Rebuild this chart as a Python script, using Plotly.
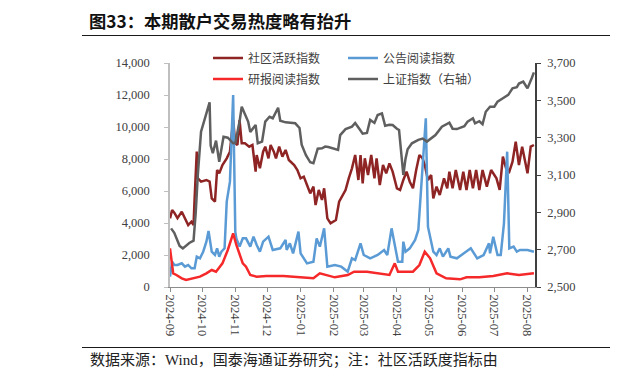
import plotly.graph_objects as go

# ---------------- data ----------------
sse_dates = ["2024-09-02","2024-09-05","2024-09-10","2024-09-13","2024-09-19","2024-09-23","2024-09-25","2024-09-27",
             "2024-09-30","2024-10-08","2024-10-09","2024-10-11","2024-10-14","2024-10-17","2024-10-21","2024-10-25",
             "2024-10-30","2024-11-01","2024-11-05","2024-11-07","2024-11-13","2024-11-15","2024-11-20","2024-11-22",
             "2024-11-26","2024-11-29","2024-12-03","2024-12-06","2024-12-11","2024-12-13","2024-12-18","2024-12-23",
             "2024-12-27","2024-12-31","2025-01-02","2025-01-06","2025-01-10","2025-01-13","2025-01-17","2025-01-21",
             "2025-01-24","2025-01-27","2025-02-05","2025-02-07","2025-02-12","2025-02-18","2025-02-21","2025-02-25",
             "2025-02-28","2025-03-04","2025-03-07","2025-03-11","2025-03-14","2025-03-18","2025-03-21","2025-03-25",
             "2025-03-28","2025-04-01","2025-04-03","2025-04-07","2025-04-09","2025-04-11","2025-04-15","2025-04-21",
             "2025-04-25","2025-04-29","2025-05-07","2025-05-13","2025-05-16","2025-05-20","2025-05-23","2025-05-27",
             "2025-06-03","2025-06-06","2025-06-11","2025-06-13","2025-06-17","2025-06-20","2025-06-23","2025-06-27",
             "2025-07-01","2025-07-04","2025-07-09","2025-07-14","2025-07-18","2025-07-22","2025-07-24","2025-07-28",
             "2025-07-31","2025-08-01","2025-08-05","2025-08-07"]
sse_values = [2814,2790,2720,2707,2736,2748,2896,3100,
              3332,3489,3258,3217,3284,3171,3305,3300,
              3270,3272,3387,3466,3386,3331,3368,3270,
              3279,3386,3412,3404,3460,3391,3382,3377,
              3377,3352,3262,3206,3168,3163,3241,3243,
              3252,3250,3234,3314,3346,3359,3379,3346,
              3321,3325,3395,3379,3421,3430,3364,3369,
              3368,3348,3341,3100,3186,3238,3270,3288,
              3295,3279,3314,3359,3367,3380,3348,3346,
              3361,3386,3404,3377,3388,3372,3439,3466,
              3466,3493,3511,3529,3564,3570,3590,3600,
              3573,3564,3620,3650]

act_dates = ["2024-09-01","2024-09-03","2024-09-05","2024-09-08","2024-09-12","2024-09-15","2024-09-18","2024-09-21",
             "2024-09-23","2024-09-24","2024-09-26","2024-09-27","2024-09-30","2024-10-05","2024-10-08","2024-10-10",
             "2024-10-13","2024-10-15","2024-10-17","2024-10-20","2024-10-24","2024-10-27","2024-10-30","2024-11-01",
             "2024-11-03","2024-11-05","2024-11-07","2024-11-10","2024-11-14","2024-11-17","2024-11-20","2024-11-21",
             "2024-11-24","2024-11-27","2024-11-29","2024-12-02","2024-12-04","2024-12-07","2024-12-09","2024-12-12",
             "2024-12-15","2024-12-18","2024-12-21","2024-12-26","2024-12-29","2025-01-01","2025-01-04","2025-01-07",
             "2025-01-10","2025-01-13","2025-01-15","2025-01-18","2025-01-21","2025-01-23","2025-01-26","2025-01-29",
             "2025-02-03","2025-02-06","2025-02-09","2025-02-12","2025-02-15","2025-02-18","2025-02-21","2025-02-24",
             "2025-02-26","2025-02-28","2025-03-02","2025-03-05","2025-03-08","2025-03-11","2025-03-13","2025-03-16",
             "2025-03-19","2025-03-22","2025-03-25","2025-03-28","2025-04-01","2025-04-04","2025-04-07","2025-04-10",
             "2025-04-13","2025-04-16","2025-04-19","2025-04-22","2025-04-25","2025-04-27","2025-04-30","2025-05-03",
             "2025-05-05","2025-05-08","2025-05-11","2025-05-15","2025-05-18","2025-05-20","2025-05-23","2025-05-26",
             "2025-05-30","2025-06-02","2025-06-05","2025-06-08","2025-06-11","2025-06-14","2025-06-17","2025-06-20",
             "2025-06-24","2025-06-28","2025-07-03","2025-07-06","2025-07-09","2025-07-12","2025-07-15","2025-07-18",
             "2025-07-21","2025-07-24","2025-07-27","2025-08-01","2025-08-04","2025-08-07"]
act_values = [4292,4812,4650,4300,4708,4300,3875,4083,
              3875,5542,8458,6792,6583,6688,6583,5542,
              5333,7312,7104,7625,8042,8458,10437,8979,
              8875,10437,8979,8979,8771,8875,7208,8250,
              7417,8458,8771,8042,8875,8458,8042,8771,
              8146,8563,7938,7625,7312,6792,6896,6375,
              5854,6271,5125,6063,5438,6167,4292,3979,
              4188,5333,5750,6063,6792,7417,8250,6688,
              8250,6479,8042,7000,8250,6792,8042,6375,
              7625,7104,7729,7208,6167,6063,6688,7208,
              6583,6167,7312,8250,8042,7625,6688,7000,
              5542,6271,5750,6792,6167,7208,6167,7312,
              6063,7208,6063,7312,6167,7312,6063,7312,
              6271,7312,6792,6063,8146,7417,7208,7833,
              9083,7625,8771,7104,8771,8875]

ann_dates = ["2024-09-01","2024-09-03","2024-09-05","2024-09-08","2024-09-12","2024-09-15","2024-09-18","2024-09-21",
             "2024-09-24","2024-09-26","2024-09-29","2024-10-02","2024-10-05","2024-10-07","2024-10-10","2024-10-13",
             "2024-10-15","2024-10-17","2024-10-19","2024-10-22","2024-10-24","2024-10-27","2024-10-30","2024-11-01",
             "2024-11-02","2024-11-05","2024-11-08","2024-11-11","2024-11-15","2024-11-18","2024-11-21","2024-11-24",
             "2024-11-27","2024-12-02","2024-12-06","2024-12-13","2024-12-18","2024-12-19","2024-12-22","2024-12-25",
             "2024-12-30","2025-01-01","2025-01-07","2025-01-13","2025-01-16","2025-01-19","2025-01-23","2025-01-26",
             "2025-02-02","2025-02-08","2025-02-14","2025-02-18","2025-02-21","2025-02-26","2025-03-01","2025-03-07",
             "2025-03-14","2025-03-20","2025-03-23","2025-03-27","2025-03-30","2025-04-02","2025-04-06","2025-04-07",
             "2025-04-09","2025-04-13","2025-04-18","2025-04-21","2025-04-28","2025-04-30","2025-05-05","2025-05-08",
             "2025-05-11","2025-05-14","2025-05-19","2025-05-21","2025-05-27","2025-06-03","2025-06-09","2025-06-15",
             "2025-06-21","2025-06-26","2025-06-27","2025-06-30","2025-07-04","2025-07-07","2025-07-10","2025-07-13",
             "2025-07-15","2025-07-19","2025-07-22","2025-07-25","2025-08-01","2025-08-07"]
ann_values = [646,1583,1375,1375,1479,1271,1375,1167,
              1167,1896,1792,2208,2833,3500,2208,2000,
              2417,1896,2208,2417,5333,6583,12000,3458,
              3042,2521,3042,3042,2521,3146,2625,2208,
              2833,3146,2313,2417,2938,2313,2729,2104,
              3458,2104,1479,1583,3042,2521,3667,1271,
              1375,1271,958,1792,1688,2729,2000,1792,
              2000,2313,2000,3667,2625,1583,1583,2833,
              2208,2417,2938,3563,10542,3771,2208,2000,
              2417,1896,2417,1896,1792,2104,2417,1792,
              2000,2729,2104,3146,2000,2000,3979,8458,
              2417,2521,2208,2313,2313,2208]

rep_dates = ["2024-09-01","2024-09-04","2024-09-07","2024-09-12","2024-09-16","2024-09-23","2024-09-29","2024-10-05",
             "2024-10-10","2024-10-14","2024-10-20","2024-10-25","2024-10-30","2024-11-02","2024-11-05","2024-11-08",
             "2024-11-11","2024-11-15","2024-11-21","2024-11-30","2024-12-16","2025-01-01","2025-01-13","2025-01-19",
             "2025-02-02","2025-02-14","2025-02-20","2025-03-04","2025-03-16","2025-03-25","2025-03-30","2025-04-02",
             "2025-04-16","2025-04-22","2025-04-27","2025-05-02","2025-05-08","2025-05-17","2025-05-30","2025-06-05",
             "2025-06-17","2025-06-30","2025-07-13","2025-07-24","2025-08-07"]
rep_values = [2417,854,750,542,438,542,646,854,
              1063,958,1479,2313,3354,2625,2104,1479,
              1271,750,646,688,688,604,542,854,
              604,750,958,958,854,750,1479,958,
              958,1375,2208,1792,854,542,479,604,
              604,688,854,750,854]

left_ticks = [0, 2000, 4000, 6000, 8000, 10000, 12000, 14000]
right_ticks = [2500, 2700, 2900, 3100, 3300, 3500, 3700]
month_ticks = ["2024-09-01","2024-10-01","2024-11-01","2024-12-01","2025-01-01","2025-02-01",
               "2025-03-01","2025-04-01","2025-05-01","2025-06-01","2025-07-01","2025-08-01"]

names = ["社区活跃指数", "公告阅读指数", "研报阅读指数", "上证指数（右轴）"]
colors = ["#8E2424", "#5B9BD5", "#F5282A", "#5F5F5F"]

# ---------------- figure ----------------
# zero margins: paper coords span the whole figure; the page body adds an 8px offset
OFF = 8
W, H = 618, 385

def px(x):
    return (x - OFF) / W

def py(y):
    return 1 - (y - OFF) / H

fig = go.Figure()
fig.add_trace(go.Scatter(x=act_dates, y=act_values, name=names[0], mode="lines",
                         line=dict(color=colors[0], width=2.5), legend="legend"))
fig.add_trace(go.Scatter(x=ann_dates, y=ann_values, name=names[1], mode="lines",
                         line=dict(color=colors[1], width=2.5), legend="legend2"))
fig.add_trace(go.Scatter(x=rep_dates, y=rep_values, name=names[2], mode="lines",
                         line=dict(color=colors[2], width=2.5), legend="legend3"))
fig.add_trace(go.Scatter(x=sse_dates, y=sse_values, name=names[3], mode="lines", yaxis="y2",
                         line=dict(color=colors[3], width=2.5), legend="legend4"))
# empty helper traces so that the two rule axes (title underline / footnote rule) get drawn
for ax in ("x3", "x4"):
    fig.add_trace(go.Scatter(x=[None], y=[None], xaxis=ax, yaxis="y", showlegend=False,
                             hoverinfo="skip", mode="lines"))

font_serif = "Liberation Serif, Noto Sans CJK SC, serif"
font_cjk = "Noto Sans CJK SC, sans-serif"
axis_font = dict(family=font_serif, size=12.5, color="#404040")

leg_common = dict(bgcolor="rgba(0,0,0,0)", borderwidth=0, font=dict(family=font_cjk, size=12, color="#404040"),
                  xanchor="left", yanchor="middle", itemwidth=30)

rule_axis = dict(anchor="free", domain=[px(82), 1.0], showline=True, linecolor="#1A1A1A", linewidth=1.3,
                 showticklabels=False, ticks="", showgrid=False, zeroline=False, fixedrange=True)

fig.update_layout(
    width=W, height=H,
    margin=dict(l=0, r=0, t=0, b=0, pad=0, autoexpand=False),
    paper_bgcolor="white", plot_bgcolor="rgba(0,0,0,0)",
    showlegend=True,
    legend=dict(x=px(208), y=py(58), **leg_common),
    legend2=dict(x=px(343), y=py(58), **leg_common),
    legend3=dict(x=px(208), y=py(79), **leg_common),
    legend4=dict(x=px(343), y=py(79), **leg_common),
    xaxis=dict(type="date", domain=[px(170), px(535)], range=["2024-09-01", "2025-08-08"],
               tickvals=month_ticks, tickformat="%Y-%m",
               tickangle=90, tickfont=axis_font, showgrid=False, zeroline=False,
               showline=True, linecolor="#8C8C8C", linewidth=1, ticks="outside", ticklen=4, tickcolor="#8C8C8C"),
    xaxis3=dict(position=py(35), **rule_axis),
    xaxis4=dict(position=py(347), **rule_axis),
    yaxis=dict(domain=[py(287), py(63)], range=[0, 14000], tickvals=left_ticks, tickformat=",", tickfont=axis_font,
               showgrid=False, zeroline=False, showline=True, linecolor="#BFBFBF", linewidth=1.5,
               ticks="outside", ticklen=4, tickcolor="#BFBFBF", ticklabelstandoff=12),
    yaxis2=dict(range=[2500, 3700], tickvals=right_ticks, tickformat=",", tickfont=axis_font,
                overlaying="y", side="right", showgrid=False, zeroline=False, showline=True,
                linecolor="#404040", linewidth=1.5, ticks="outside", ticklen=4, tickcolor="#404040",
                ticklabelstandoff=4),
)

# title and footnote
fig.add_annotation(text="<b>图33：本期散户交易热度略有抬升</b>", xref="paper", yref="paper",
                   x=px(87), y=py(20), xanchor="left", yanchor="middle", showarrow=False,
                   font=dict(family=font_cjk, size=17.3, color="#111111"))
fig.add_annotation(text="<b>图</b>", xref="paper", yref="paper",
                   x=px(609), y=py(20), xanchor="left", yanchor="middle", showarrow=False,
                   font=dict(family=font_cjk, size=17, color="#111111"))
fig.add_annotation(text="数据来源：Wind，国泰海通证券研究；注：社区活跃度指标由", xref="paper", yref="paper",
                   x=px(88), y=py(360), xanchor="left", yanchor="middle", showarrow=False,
                   font=dict(family=font_serif, size=15, color="#222222"))
fig.add_annotation(text="维", xref="paper", yref="paper",
                   x=px(608), y=py(360), xanchor="left", yanchor="middle", showarrow=False,
                   font=dict(family=font_serif, size=14, color="#222222"))

fig.write_html("out.html")
